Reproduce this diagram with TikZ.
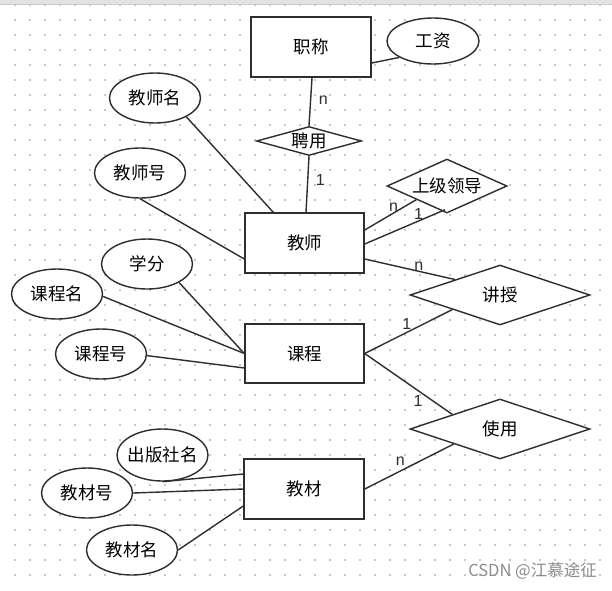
\documentclass[tikz,border=0pt]{standalone}
\usepackage{fontspec}
\setmainfont{Noto Sans CJK SC}
\newfontfamily\numfont{Liberation Sans}
\usetikzlibrary{shapes.geometric}
\definecolor{mline}{rgb}{0.18, 0.18, 0.18}
\definecolor{mdot}{rgb}{0.78, 0.78, 0.78}
\definecolor{mmark}{rgb}{0.55, 0.55, 0.55}
\tikzset{ent/.style = {draw = mline, fill = white, line width = 1.4pt, minimum width = 120, minimum height = 60, inner sep = 0, font = \fontsize{17.5}{20}\selectfont}}
\tikzset{attr/.style = {draw = mline, fill = white, ellipse, line width = 1.4pt, minimum width = 91, minimum height = 50, inner xsep = -6pt, inner ysep = 0, font = \fontsize{17.5}{20}\selectfont}}
\tikzset{rel/.style = {draw = mline, fill = white, diamond, line width = 1.4pt, inner sep = 0, font = \fontsize{17.5}{20}\selectfont}}
\tikzset{lbl/.style = {inner sep = 0.5, font = \numfont\fontsize{16}{18}\selectfont}}
\tikzset{conn/.style = {mline, line width = 1.4pt}}
\begin{document}
\begin{tikzpicture}[x=1pt, y=-1pt]
      \useasboundingbox (0, 0) rectangle (612, 590);
      \fill[white] (0, 0) rectangle (612, 590);
      \fill[gray!22] (0, 0) rectangle (612, 4);
      \draw[gray!40] (0, 4.5) -- (612, 4.5);
      \foreach \i in {1,...,40} {
        \foreach \j in {0,...,38} {
          \fill[mdot] (15*\i - 0.6, 5 + 15*\j - 0.6) rectangle ++(1.2, 1.2);
        }
      }
      \node[ent] (zc) at (311, 47) {职称};
      \node[attr, minimum width = 92, minimum height = 46] (gz) at (433, 41) {工资};
      \node[rel, minimum width = 105, minimum height = 29, aspect = 3.6] (py) at (309, 141) {聘用};
      \node[attr] (jsm) at (155, 98) {教师名};
      \node[attr] (jsh) at (140, 173) {教师号};
      \node[ent, minimum width = 119] (js) at (304.5, 243) {教师};
      \node[rel, minimum width = 120, minimum height = 54, aspect = 2.2] (sjld) at (447, 186) {上级领导};
      \node[rel, minimum width = 180, minimum height = 60, aspect = 3] (jshou) at (500, 295) {讲授};
      \node[attr] (xf) at (147, 264) {学分};
      \node[attr] (kcm) at (57, 294) {课程名};
      \node[attr] (kch) at (101, 354) {课程号};
      \node[ent, minimum width = 119, minimum height = 59] (kc) at (304.5, 353.5) {课程};
      \node[rel, minimum width = 180, minimum height = 60, aspect = 3] (sy) at (500, 429) {使用};
      \node[attr, minimum height = 52] (cbsm) at (162.5, 455) {出版社名};
      \node[attr] (jch) at (87, 493) {教材号};
      \node[attr] (jcm) at (132, 550) {教材名};
      \node[ent] (jc) at (304, 489) {教材};
      \draw[conn] ([yshift = -16pt]zc.east) -- (gz.206);
      \draw[conn] ([xshift = 1pt]zc.south) -- node[lbl, right = 7pt, pos = 0.46] {n} (py.north);
      \draw[conn] (py.south) -- node[lbl, right = 7pt, pos = 0.42] {1} ([xshift = 1.5pt]js.north);
      \draw[conn] (jsm.329) -- ([xshift = 29pt]js.north west);
      \draw[conn] (jsh.south) -- ([yshift = -16pt]js.west);
      \draw[conn] ([yshift = 13pt]js.east) -- node[lbl, above, pos = 0.56] {n} (sjld.204);
      \draw[conn] ([yshift = -1pt]js.east) -- node[lbl, above, pos = 0.67] {1} ([xshift = -2pt, yshift = 4pt]sjld.south);
      \draw[conn] ([yshift = -16pt]js.east) -- node[lbl, above, pos = 0.6] {n} (jshou.161);
      \draw[conn] (kc.east) -- node[lbl, above = 2pt, pos = 0.48] {1} (jshou.197);
      \draw[conn] (kc.east) -- node[lbl, below left, pos = 0.674] {1} (sy.163);
      \draw[conn] (sy.198) -- node[lbl, above = 4pt, pos = 0.6] {n} (jc.east);
      \draw[conn] (xf.330) -- (kc.west);
      \draw[conn] (kcm.357) -- (kc.west);
      \draw[conn] (kch.358) -- ([yshift = -14.5pt]kc.west);
      \draw[conn] (cbsm.south) -- ([yshift = 15pt]jc.west);
      \draw[conn] (jch.east) -- (jc.west);
      \draw[conn] (jcm.east) -- ([yshift = -17pt]jc.west);
      \node[anchor = east, text = mmark, inner sep = 0, font = \fontsize{16.5}{18}\selectfont] (mark) at (597, 571) {CSDN @江慕途征};
\end{tikzpicture}
\end{document}
